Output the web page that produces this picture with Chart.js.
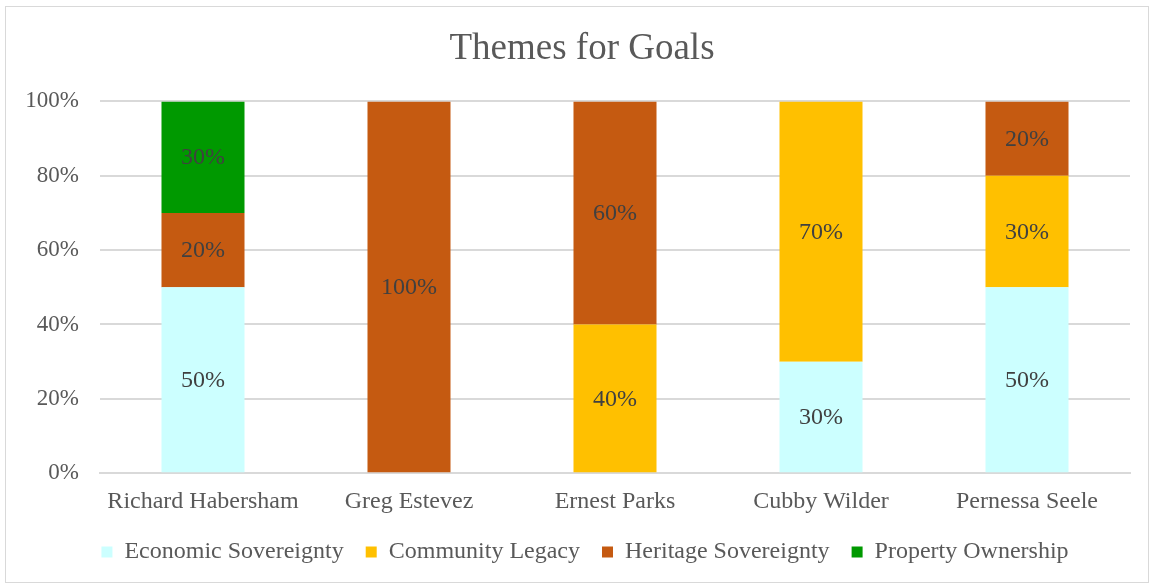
<!DOCTYPE html>
<html>
<head>
<meta charset="utf-8">
<script src="https://cdn.jsdelivr.net/npm/chart.js@4/dist/chart.umd.min.js"></script>
<style>
  html, body { margin: 0; padding: 0; background: #fff; }
  #frame { position: absolute; left: 5px; top: 6px; width: 1142px; height: 575px; border: 1px solid #d9d9d9; }
  #wrap { position: absolute; left: 0; top: 0; width: 1153px; height: 586px; }
</style>
</head>
<body>
<div id="frame"></div>
<div id="wrap"><canvas id="goals_chart" width="1153" height="586"></canvas></div>
<script>
const people = ['Richard Habersham', 'Greg Estevez', 'Ernest Parks', 'Cubby Wilder', 'Pernessa Seele'];
const economicSovereignty = [50, 0, 0, 30, 50];
const communityLegacy = [0, 0, 40, 70, 30];
const heritageSovereignty = [20, 100, 60, 0, 20];
const propertyOwnership = [30, 0, 0, 0, 0];
const yTicks = [0, 20, 40, 60, 80, 100];

const serif = 'Liberation Serif, Times New Roman, serif';

// draws the percent text in the middle of every non-empty segment
const segmentLabels = {
  id: 'segmentLabels',
  afterDatasetsDraw(chart) {
    const ctx = chart.ctx;
    ctx.save();
    ctx.font = '24px ' + serif;
    ctx.fillStyle = '#404040';
    ctx.textAlign = 'center';
    ctx.textBaseline = 'middle';
    chart.data.datasets.forEach((ds, i) => {
      chart.getDatasetMeta(i).data.forEach((bar, j) => {
        const v = ds.data[j];
        if (!v) return;
        const { x, y } = bar.getCenterPoint();
        ctx.fillText(v + '%', x, y + 1);
      });
    });
    ctx.restore();
  },
};

// excel centres title and legend a bit right of the canvas middle
const nudgeBlocks = {
  id: 'nudgeBlocks',
  afterLayout(chart) {
    const t = chart.titleBlock;
    t.left += 17; t.right += 17;
    const l = chart.legend;
    l.left += 20; l.right += 20;
    l.top -= 12; l.bottom -= 12;
  },
};

const chart = new Chart(document.getElementById('goals_chart').getContext('2d'), {
  type: 'bar',
  data: {
    labels: people,
    datasets: [
      { label: 'Economic Sovereignty', data: economicSovereignty, backgroundColor: '#CCFFFF' },
      { label: 'Community Legacy', data: communityLegacy, backgroundColor: '#FFC000' },
      { label: 'Heritage Sovereignty', data: heritageSovereignty, backgroundColor: '#C55A11' },
      { label: 'Property Ownership', data: propertyOwnership, backgroundColor: '#009900' },
    ],
  },
  options: {
    responsive: false,
    animation: false,
    categoryPercentage: 1,
    barPercentage: 0.403,
    layout: { padding: { left: 0, right: 23, top: 0, bottom: 0 } },
    plugins: {
      tooltip: { enabled: false },
      title: {
        display: true,
        text: 'Themes for Goals',
        color: '#595959',
        font: { family: serif, size: 37, weight: 'normal' },
        padding: { top: 27, bottom: 30 },
      },
      legend: {
        position: 'bottom',
        labels: {
          color: '#595959',
          font: { family: serif, size: 24 },
          boxWidth: 11,
          boxHeight: 11,
          padding: 22,
        },
      },
    },
    scales: {
      x: {
        stacked: true,
        grid: { display: false, drawTicks: false },
        border: { color: '#d9d9d9', width: 2 },
        ticks: { color: '#595959', font: { family: serif, size: 24 }, padding: 14, maxRotation: 0 },
      },
      y: {
        stacked: true,
        min: 0,
        max: 100,
        afterFit(scale) { scale.width = 100; },
        afterBuildTicks(scale) { scale.ticks = yTicks.map((v) => ({ value: v })); },
        grid: { color: '#d9d9d9', lineWidth: 2, drawTicks: false },
        border: { display: false },
        ticks: {
          color: '#595959',
          font: { family: serif, size: 23 },
          padding: 21,
          callback: (v) => v + '%',
        },
      },
    },
  },
  plugins: [segmentLabels, nudgeBlocks],
});
</script>
</body>
</html>
